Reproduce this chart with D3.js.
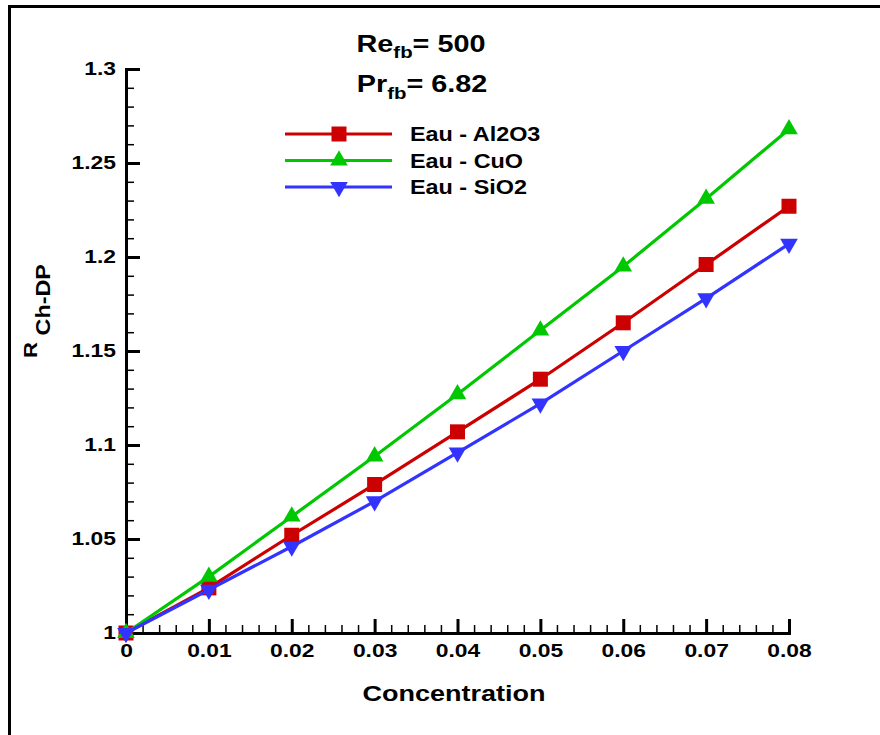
<!DOCTYPE html>
<html>
<head>
<meta charset="utf-8">
<script src="https://cdn.jsdelivr.net/npm/d3@7"></script>
<style>
  html, body { margin: 0; padding: 0; background: #fff; }
  svg { display: block; }
  text { font-family: "Liberation Sans", Arial, sans-serif; font-weight: bold; fill: #000; }
</style>
</head>
<body>
<svg id="chart" width="880" height="735"></svg>
<script>
// ---- data ----
const concentration = [0, 0.01, 0.02, 0.03, 0.04, 0.05, 0.06, 0.07, 0.08];
const eauAl2O3 = [1.000, 1.024, 1.052, 1.079, 1.107, 1.135, 1.165, 1.196, 1.227];
const eauCuO   = [1.000, 1.030, 1.062, 1.094, 1.127, 1.161, 1.195, 1.231, 1.268];
const eauSiO2  = [1.000, 1.023, 1.046, 1.070, 1.096, 1.122, 1.150, 1.178, 1.207];
const seriesNames = ["Eau - Al2O3", "Eau - CuO", "Eau - SiO2"];
const xTickValues = [0, 0.01, 0.02, 0.03, 0.04, 0.05, 0.06, 0.07, 0.08];
const xTickLabels = ["0", "0.01", "0.02", "0.03", "0.04", "0.05", "0.06", "0.07", "0.08"];
const yTickValues = [1, 1.05, 1.1, 1.15, 1.2, 1.25, 1.3];
const yTickLabels = ["1", "1.05", "1.1", "1.15", "1.2", "1.25", "1.3"];

// ---- layout / style ----
const SX = 1.2;      // horizontal stretch of lettering
const SX_TICK = 1.27;
const svg = d3.select("#chart");
const x = d3.scaleLinear().domain([0, 0.08]).range([126, 789]);
const y = d3.scaleLinear().domain([1, 1.3]).range([633, 69]);
const colors = ["#cc0000", "#00c800", "#3333ff"];
const symbols = ["square", "up", "down"];

// outer frame
svg.append("rect").attr("x", 9.5).attr("y", 6.5).attr("width", 900).attr("height", 800)
  .attr("fill", "none").attr("stroke", "#000").attr("stroke-width", 3);

function stretchedText(x0, y0, rot, anchor, size) {
  return svg.append("g")
    .attr("transform", `translate(${x0},${y0}) rotate(${rot}) scale(${SX},1)`)
    .append("text").attr("text-anchor", anchor).attr("font-size", size);
}

// minor ticks
const xMinor = d3.range(0, 81, 2).map(d => d / 1000).filter(d => Math.round(d * 1000) % 10 !== 0);
const yMinor = d3.range(100, 131, 1).map(d => d / 100).filter(d => Math.round(d * 100) % 5 !== 0);

const gxMinor = svg.append("g").attr("transform", "translate(0,633)")
  .call(d3.axisBottom(x).tickValues(xMinor).tickSizeInner(-8).tickSizeOuter(0).tickFormat(""));
gxMinor.select(".domain").remove();
gxMinor.selectAll("line").attr("stroke-width", 1.5);

const gyMinor = svg.append("g").attr("transform", "translate(126,0)")
  .call(d3.axisLeft(y).tickValues(yMinor).tickSizeInner(-8).tickSizeOuter(0).tickFormat(""));
gyMinor.select(".domain").remove();
gyMinor.selectAll("line").attr("stroke-width", 1.5);

// major axes
const gx = svg.append("g").attr("transform", "translate(0,633)")
  .call(d3.axisBottom(x).tickValues(xTickValues).tickSizeInner(-14).tickSizeOuter(0)
    .tickPadding(11).tickFormat((d, i) => xTickLabels[i]));
gx.select(".domain").attr("stroke-width", 3).attr("stroke-linecap", "square");
gx.selectAll("line").attr("stroke-width", 3);
gx.selectAll("text").attr("font-size", 18).attr("font-family", null)
  .attr("transform", `scale(${SX_TICK},1)`);

const yPad = 10;
const gy = svg.append("g").attr("transform", "translate(126,0)")
  .call(d3.axisLeft(y).tickValues(yTickValues).tickSizeInner(-14).tickSizeOuter(0)
    .tickPadding(yPad).tickFormat((d, i) => yTickLabels[i]));
gy.select(".domain").attr("stroke-width", 3).attr("stroke-linecap", "square");
gy.selectAll("line").attr("stroke-width", 3);
gy.selectAll("text").attr("font-size", 18).attr("font-family", null)
  .attr("x", -yPad / SX_TICK).attr("transform", `scale(${SX_TICK},1)`);

// series
function markerPath(kind) {
  if (kind === "square") return d3.symbol().type(d3.symbolSquare).size(225)();
  return d3.symbol().type(d3.symbolTriangle).size(135)();
}
const allSeries = [eauAl2O3, eauCuO, eauSiO2];
const line = d3.line().x(d => x(d[0])).y(d => y(d[1]));
allSeries.forEach((vals, si) => {
  const pts = concentration.map((c, i) => [c, vals[i]]);
  const g = svg.append("g");
  g.append("path").attr("d", line(pts)).attr("fill", "none")
    .attr("stroke", colors[si]).attr("stroke-width", 3.2).attr("stroke-linejoin", "round");
  g.selectAll("path.m").data(pts).join("path").attr("class", "m")
    .attr("d", markerPath(symbols[si]))
    .attr("transform", d => `translate(${x(d[0])},${y(d[1])})${symbols[si] === "down" ? " rotate(180)" : ""}`)
    .attr("fill", colors[si]);
});

// legend
const legendY = [134, 160.5, 187];
seriesNames.forEach((name, si) => {
  const ly = legendY[si];
  svg.append("line").attr("x1", 285).attr("x2", 392).attr("y1", ly).attr("y2", ly)
    .attr("stroke", colors[si]).attr("stroke-width", 3.2);
  svg.append("path").attr("d", markerPath(symbols[si]))
    .attr("transform", `translate(339,${ly})${symbols[si] === "down" ? " rotate(180)" : ""}`)
    .attr("fill", colors[si]);
  stretchedText(410, ly + 7, 0, "start", 19.5).text(name);
});

// titles
const t1 = stretchedText(421, 52, 0, "middle", 24);
t1.append("tspan").text("Re");
t1.append("tspan").attr("font-size", 17).attr("dy", 6).text("fb");
t1.append("tspan").attr("dy", -6).text("= 500");

const t2 = stretchedText(422, 92, 0, "middle", 24);
t2.append("tspan").text("Pr");
t2.append("tspan").attr("font-size", 17).attr("dy", 7).text("fb");
t2.append("tspan").attr("dy", -7).text("= 6.82");

// axis titles
stretchedText(454, 701, 0, "middle", 22.5).text("Concentration");

const yl = stretchedText(37, 358, -90, "start", 18.5);
yl.append("tspan").text("R");
yl.append("tspan").attr("font-size", 19.5).attr("dy", 13).text(" Ch-DP");
</script>
</body>
</html>
